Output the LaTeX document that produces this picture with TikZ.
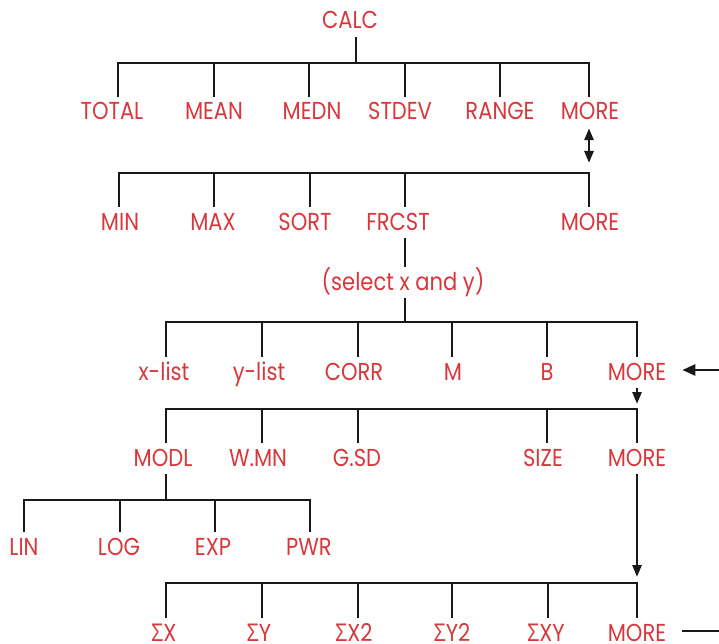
\documentclass[tikz,border=0pt]{standalone}
\usepackage{fontspec}
\setmainfont[FakeStretch=0.86]{Poppins}
\newfontfamily\gkfont[FakeStretch=0.86]{Open Sans}
\usetikzlibrary{arrows.meta}
\definecolor{hpred}{HTML}{D8373C}
\begin{document}
\begin{tikzpicture}[x=1pt,y=-1pt,
  lab/.style={text=hpred, font=\fontsize{24.5}{29}\selectfont, anchor=base,
    text height=17pt, text depth=2pt, inner ysep=6pt, inner xsep=2pt},
  wire/.style={line width=2.6pt, draw=black!90},
  arr/.style={wire, -{Triangle[length=12pt,width=9pt]}},
  bigarr/.style={wire, -{Triangle[length=13pt,width=11pt]}},
  darr/.style={wire, {Triangle[length=12pt,width=9pt]}-{Triangle[length=12pt,width=9pt]}},
]
\useasboundingbox (0,0) rectangle (719,644);
% row 0
\node[lab] (calc) at (350,29) {CALC};
% row 1
\node[lab] (total) at (112,120) {TOTAL};
\node[lab] (mean)  at (214,120) {MEAN};
\node[lab] (medn)  at (312,120) {MEDN};
\node[lab] (stdev) at (400,120) {STDEV};
\node[lab] (range) at (500,120) {RANGE};
\node[lab] (moreA) at (590,120) {MORE};
% row 2
\node[lab] (min)   at (120,230) {MIN};
\node[lab] (max)   at (213,230) {MAX};
\node[lab] (sort)  at (305,230) {SORT};
\node[lab] (frcst) at (398,230) {FRCST};
\node[lab] (moreB) at (590,230) {MORE};
\node[lab] (select) at (403,290) {(select x and y)};
% row 3
\node[lab] (xlist) at (164,380) {x-list};
\node[lab] (ylist) at (259,380) {y-list};
\node[lab] (corr)  at (354,380) {CORR};
\node[lab] (m)     at (453,380) {M};
\node[lab] (b)     at (547,380) {B};
\node[lab] (moreC) at (637,380) {MORE};
% row 4
\node[lab] (modl)  at (163,466) {MODL};
\node[lab] (wmn)   at (258,466) {W.MN};
\node[lab] (gsd)   at (357,466) {G.SD};
\node[lab] (size)  at (543,466) {SIZE};
\node[lab] (moreD) at (637,466) {MORE};
% row 5
\node[lab] (lin)   at (24,555)  {LIN};
\node[lab] (log)   at (119,555) {LOG};
\node[lab] (exp)   at (213,555) {EXP};
\node[lab] (pwr)   at (309,555) {PWR};
% row 6
\node[lab] (sx)    at (164,641) {{\gkfont Σ}X};
\node[lab] (sy)    at (259,641) {{\gkfont Σ}Y};
\node[lab] (sxtwo) at (354,641) {{\gkfont Σ}X2};
\node[lab] (sytwo) at (452,641) {{\gkfont Σ}Y2};
\node[lab] (sxy)   at (546,641) {{\gkfont Σ}XY};
\node[lab] (moreE) at (637,641) {MORE};

% bar junctions
\coordinate (j1) at (356,63);
\coordinate (c2) at (589,173);
\coordinate (j3) at (405,322);
\coordinate (c4) at (637,409);
\coordinate (j5) at (166,500);
\coordinate (c6) at (637,583);
\coordinate (inC) at (719,370);
\coordinate (outE) at (719,631);

% tree 1
\draw[wire] (j1 |- calc.south) -- (j1);
\draw[wire] ([xshift=6pt]total.north) |- (j1) -| (moreA.north -| c2);
\draw[wire] (mean.north) -- (mean.north |- j1);
\draw[wire] ([xshift=-3pt]medn.north) -- ([xshift=-3pt]medn.north |- j1);
\draw[wire] ([xshift=5pt]stdev.north) -- ([xshift=5pt]stdev.north |- j1);
\draw[wire] (range.north) -- (range.north |- j1);
% double arrow
\draw[darr] (moreA.south -| c2) -- ([yshift=10pt]c2);
% tree 2
\draw[wire] ([xshift=-1pt]min.north) |- (c2) -- (moreB.north -| c2);
\draw[wire] ([xshift=1pt]max.north) -- ([xshift=1pt]max.north |- c2);
\draw[wire] ([xshift=5pt]sort.north) -- ([xshift=5pt]sort.north |- c2);
\draw[wire] ([xshift=7pt]frcst.north) -- ([xshift=7pt]frcst.north |- c2);
\draw[wire] ([xshift=7pt]frcst.south) -- (select.north -| j3);
% tree 3
\draw[wire] (select.south -| j3) -- (j3);
\draw[wire] ([xshift=2pt]xlist.north) |- (j3) -| (moreC.north);
\draw[wire] ([xshift=3pt]ylist.north) -- ([xshift=3pt]ylist.north |- j3);
\draw[wire] ([xshift=4pt]corr.north) -- ([xshift=4pt]corr.north |- j3);
\draw[wire] ([xshift=-1pt]m.north) -- ([xshift=-1pt]m.north |- j3);
\draw[wire] (b.north) -- (b.north |- j3);
\draw[bigarr] (inC) -- ([xshift=14pt]moreC.east |- inC);
% tree 4
\draw[arr] (moreC.south) -- ([yshift=5pt]c4);
\draw[wire] ([xshift=3pt]modl.north) |- (c4) -- (moreD.north);
\draw[wire] ([xshift=4pt]wmn.north) -- ([xshift=4pt]wmn.north |- c4);
\draw[wire] ([xshift=1pt]gsd.north) -- ([xshift=1pt]gsd.north |- c4);
\draw[wire] ([xshift=4pt]size.north) -- ([xshift=4pt]size.north |- c4);
% tree 5
\draw[wire] ([xshift=3pt]modl.south) -- (j5);
\draw[wire] (lin.north) |- (j5) -| ([xshift=1pt]pwr.north);
\draw[wire] ([xshift=1pt]log.north) -- ([xshift=1pt]log.north |- j5);
\draw[wire] ([xshift=2pt]exp.north) -- ([xshift=2pt]exp.north |- j5);
% tree 6
\draw[arr] (moreD.south) -- ([yshift=6pt]c6);
\draw[wire] ([xshift=2pt]sx.north) |- (c6) -- (moreE.north);
\draw[wire] ([xshift=3pt]sy.north) -- ([xshift=3pt]sy.north |- c6);
\draw[wire] ([xshift=4pt]sxtwo.north) -- ([xshift=4pt]sxtwo.north |- c6);
\draw[wire] (sytwo.north) -- (sytwo.north |- c6);
\draw[wire] ([xshift=2pt]sxy.north) -- ([xshift=2pt]sxy.north |- c6);
\draw[wire] ([xshift=14pt]moreE.east |- outE) -- (outE);
\end{tikzpicture}
\end{document}
